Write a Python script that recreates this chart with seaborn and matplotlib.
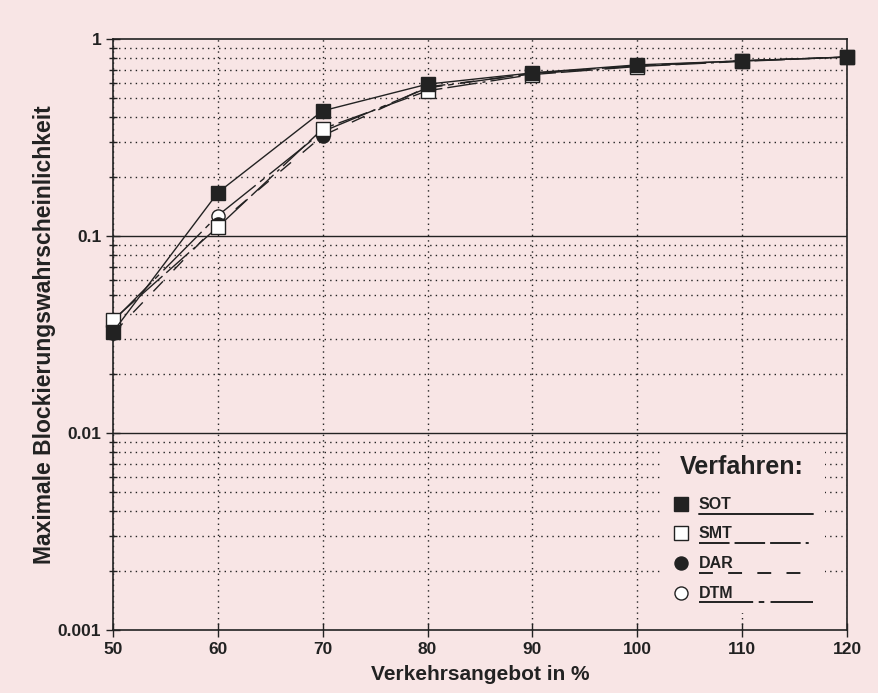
import numpy as np
import pandas as pd
import matplotlib
matplotlib.use("Agg")
import matplotlib.pyplot as plt
from matplotlib.patches import Rectangle
from matplotlib.lines import Line2D
from matplotlib.ticker import LogLocator, FixedLocator, FixedFormatter, NullFormatter
import seaborn as sns

# =============================
# Data
# =============================
load = [50, 60, 70, 80, 90, 100, 110, 120]
sot = [0.0326, 0.166, 0.432, 0.59, 0.673, 0.739, 0.774, 0.81]
smt = [0.0375, 0.111, 0.350, 0.546, 0.660, 0.725, 0.770, 0.81]
dar = [0.0320, 0.115, 0.323, 0.571, 0.665, 0.730, 0.775, 0.81]
dtm = [0.0370, 0.127, 0.339, 0.565, 0.670, 0.732, 0.775, 0.81]
methods = ["SOT", "SMT", "DAR", "DTM"]

df = pd.DataFrame({
    "Verkehrsangebot": load * 4,
    "p": sot + smt + dar + dtm,
    "Verfahren": sum([[m] * len(load) for m in methods], []),
})

# =============================
# Styles
# =============================
BG = "#f8e5e5"
INK = "#222222"
styles = {
    "SOT": dict(marker="s", mfc=INK, dashes=None, ms=10),
    "SMT": dict(marker="s", mfc="white", dashes=(22, 3.6, 22, 3.6, 22, 3.6, 2.2, 3.6), ms=10),
    "DAR": dict(marker="o", mfc=INK, dashes=(10, 11), ms=9.5),
    "DTM": dict(marker="o", mfc="white", dashes=(39, 4, 4, 4.5), ms=9.5),
}

sns.set_style("white")
plt.rcParams["font.family"] = ["Liberation Sans", "DejaVu Sans"]
plt.rcParams["font.weight"] = "bold"
plt.rcParams["lines.scale_dashes"] = False

fig = plt.figure(figsize=(8.79, 6.93), dpi=100, facecolor=BG)
ax = fig.add_axes([113 / 879, 1 - 630 / 693, 734 / 879, 591 / 693])
ax.set_facecolor(BG)

# draw SOT last so its filled squares sit on top
for m in methods[::-1]:
    st = styles[m]
    sub = df[df["Verfahren"] == m]
    ls = "-" if st["dashes"] is None else (0, st["dashes"])
    sns.lineplot(data=sub, x="Verkehrsangebot", y="p", ax=ax, color=INK,
                 linewidth=1.0, linestyle=ls, marker=st["marker"],
                 markersize=st["ms"], markerfacecolor=st["mfc"],
                 markeredgecolor=INK, markeredgewidth=1.0, legend=False,
                 zorder=5, clip_on=False)

ax.set_yscale("log")
ax.set_xlim(50, 120)
ax.set_ylim(0.001, 1)

ax.xaxis.set_major_locator(FixedLocator(load))
ax.yaxis.set_major_locator(FixedLocator([0.001, 0.01, 0.1, 1]))
ax.yaxis.set_major_formatter(FixedFormatter(["0.001", "0.01", "0.1", "1"]))
ax.yaxis.set_minor_locator(LogLocator(base=10, subs=np.arange(2, 10)))
ax.yaxis.set_minor_formatter(NullFormatter())

ax.tick_params(axis="both", which="major", direction="inout", length=10,
               width=1, color=INK, labelsize=12.5, labelcolor=INK)
ax.tick_params(axis="y", which="minor", direction="inout", length=6,
               width=1, color=INK, left=True)
ax.tick_params(axis="x", which="major", bottom=True)
ax.tick_params(axis="y", which="major", left=True)
for lab in ax.get_xticklabels() + ax.get_yticklabels():
    lab.set_fontweight("bold")

# grid
ax.grid(False)
ax.grid(True, axis="x", which="major", linestyle=(0, (1, 3)), color=INK, linewidth=1)
ax.grid(True, axis="y", which="minor", linestyle=(0, (1, 3)), color=INK, linewidth=1)
for yv in [0.01, 0.1]:
    ax.axhline(yv, color=INK, linewidth=1, zorder=1)

for s in ax.spines.values():
    s.set_color(INK)
    s.set_linewidth(1.2)

ax.set_xlabel("Verkehrsangebot in %", fontsize=15, fontweight="bold", color=INK, labelpad=6)
ax.set_ylabel("Maximale Blockierungswahrscheinlichkeit", fontsize=16.5,
              fontweight="bold", color=INK, labelpad=1)

# =============================
# Legend (drawn by hand)
# =============================
ax.add_patch(Rectangle((0.749, 0.029), 0.221, 0.281, transform=ax.transAxes,
                       facecolor=BG, edgecolor="none", zorder=3))
ax.text(0.857, 0.276, "Verfahren:", transform=ax.transAxes, fontsize=18,
        fontweight="bold", color=INK, ha="center", va="center", zorder=6)
ys = [0.213, 0.164, 0.113, 0.0626]
for m, yy in zip(methods, ys):
    st = styles[m]
    ax.add_line(Line2D([0.774], [yy], transform=ax.transAxes, marker=st["marker"],
                       markersize=9.4, markerfacecolor=st["mfc"],
                       markeredgecolor=INK, linestyle="none", zorder=6))
    ax.text(0.798, yy, m, transform=ax.transAxes, fontsize=11.5,
            fontweight="bold", color=INK, ha="left", va="center", zorder=6)
    ls = "-" if st["dashes"] is None else (0, st["dashes"])
    ax.add_line(Line2D([0.798, 0.954], [yy - 0.016, yy - 0.016], transform=ax.transAxes,
                       color=INK, linewidth=1.4, linestyle=ls, zorder=6))

fig.savefig("out.png", dpi=100, facecolor=BG)
